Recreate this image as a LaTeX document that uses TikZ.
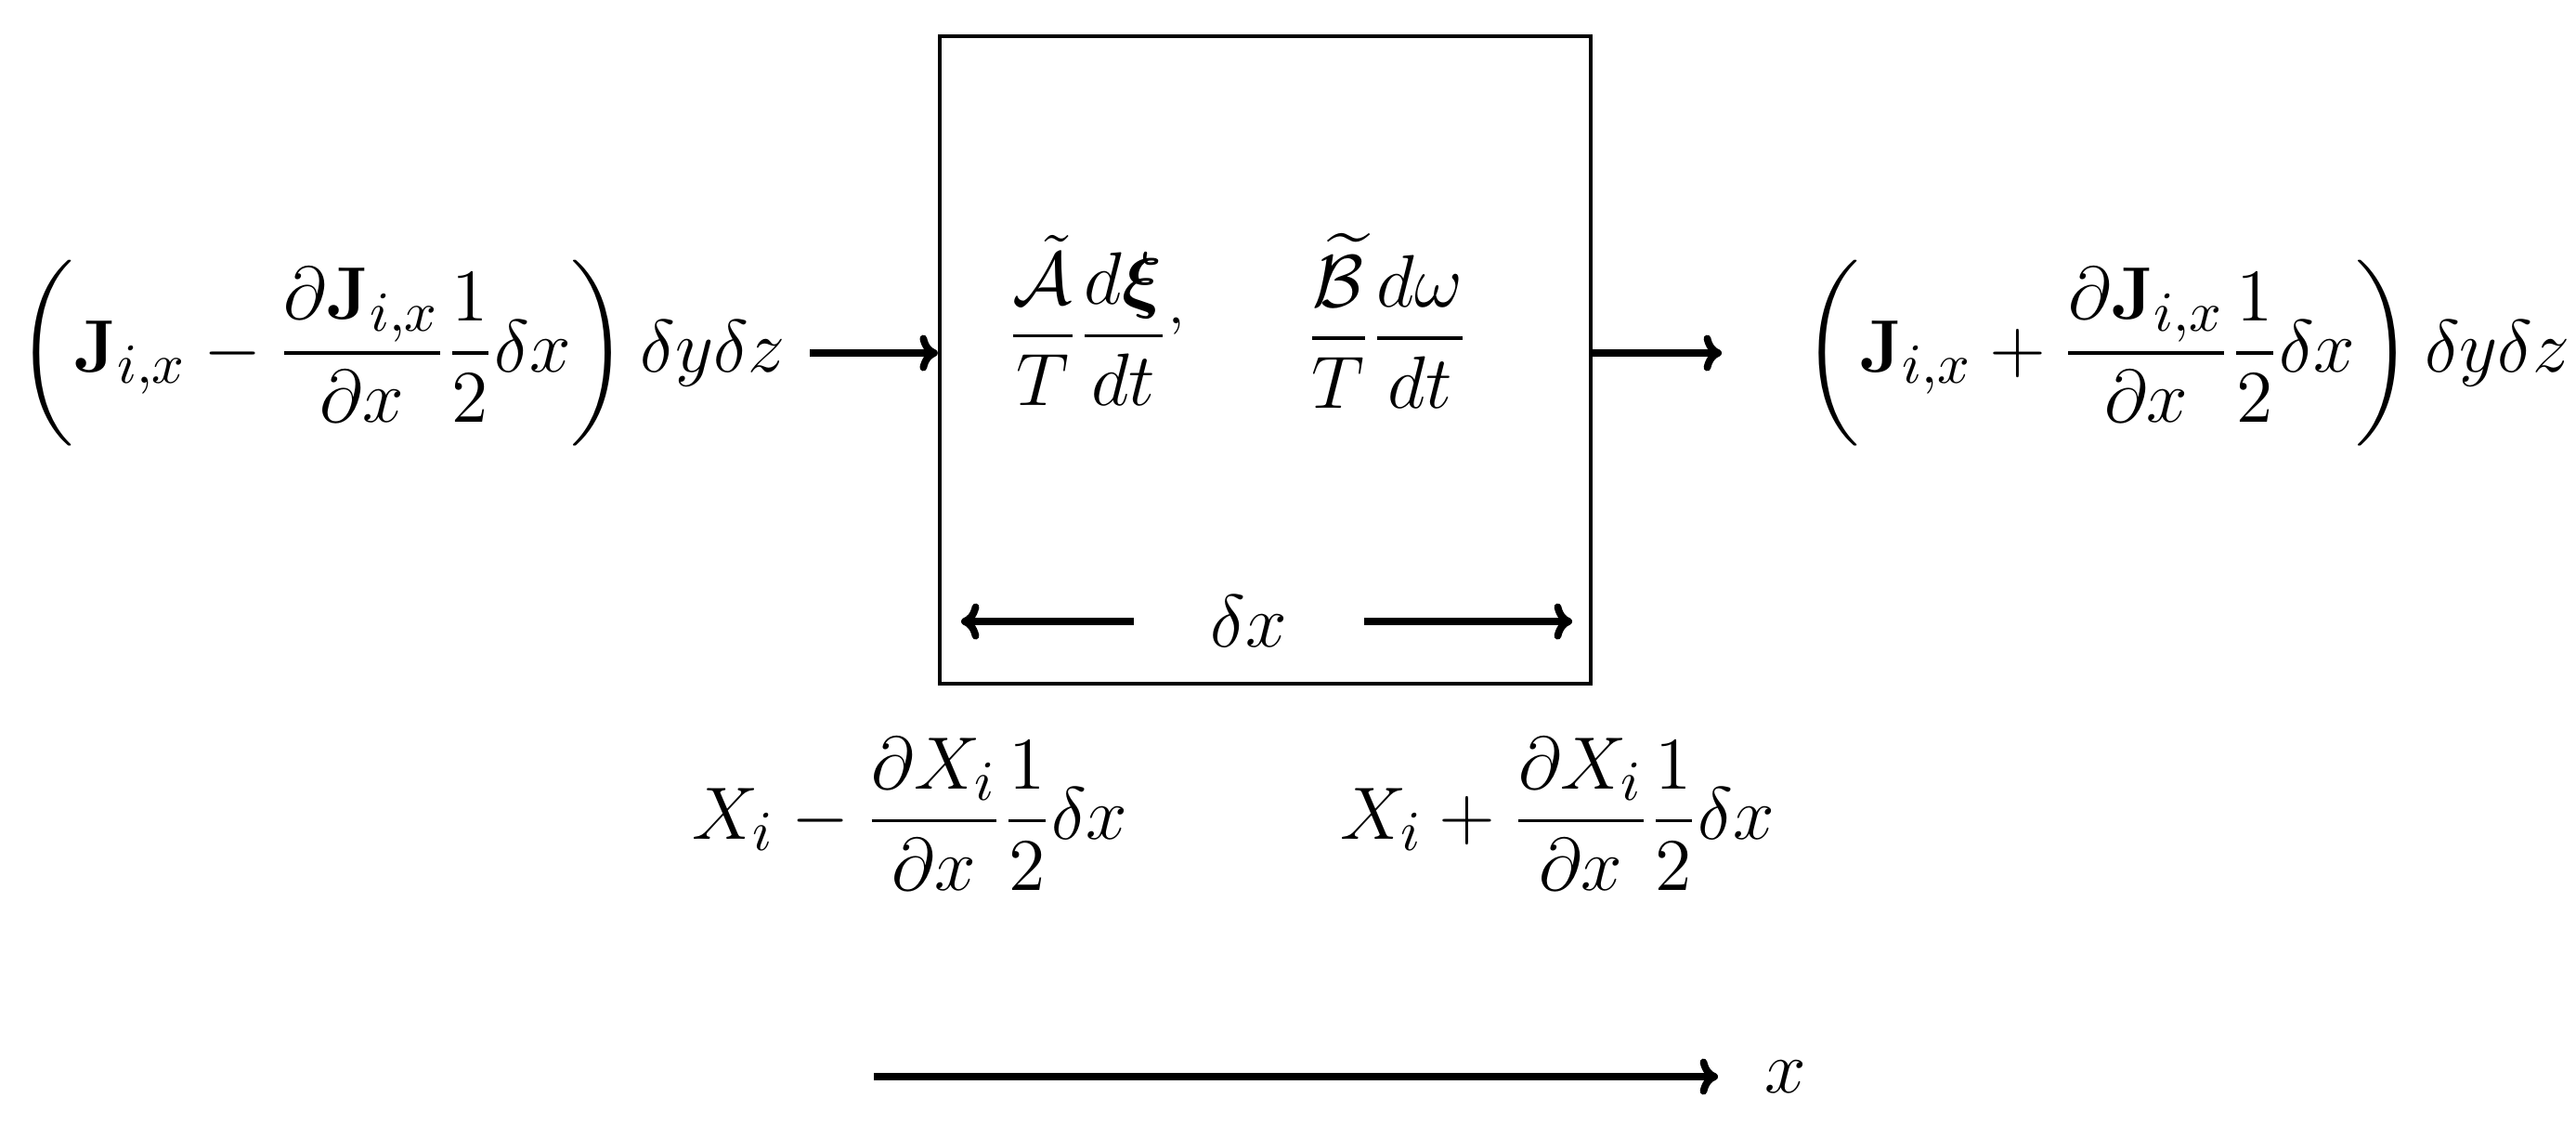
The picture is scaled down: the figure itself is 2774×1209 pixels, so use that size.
\documentclass[tikz,border=0pt]{standalone}
\usepackage{amsmath,amssymb}
\usetikzlibrary{arrows.meta}
\begin{document}
\begin{tikzpicture}[x=0.18pt,y=-0.18pt,
  arr/.style={line width=1.4pt,-{To[length=3.5pt,width=7pt]}},
  lbl/.style={inner sep=0pt,outer sep=0pt,font=\fontsize{15}{18}\selectfont},
  boxst/.style={draw,line width=0.75pt,minimum width=126.2pt,minimum height=125.5pt,inner sep=0pt}]
\useasboundingbox (0,0) rectangle (2774,1209);
\node[boxst] (box) at (1362.5,387.5) {};
\node[lbl,anchor=east] (jin) at (846,380) {$\displaystyle\left(\mathbf{J}_{i,x}-\frac{\partial\mathbf{J}_{i,x}}{\partial x}\frac{1}{2}\delta x\right)\delta y\delta z$};
\node[lbl,anchor=west] (jout) at (1941,380) {$\displaystyle\left(\mathbf{J}_{i,x}+\frac{\partial\mathbf{J}_{i,x}}{\partial x}\frac{1}{2}\delta x\right)\delta y\delta z$};
\draw[arr] ([xshift=26*0.18pt]jin.east) -- (jin.east -| box.west);
\draw[arr] (jin.east -| box.east) -- ([xshift=-87*0.18pt]jout.west);
\node[lbl] (rateA) at (1181,345) {$\displaystyle\frac{\tilde{\mathcal{A}}}{T}\frac{d\boldsymbol{\xi}}{dt}{}^{,}$};
\node[lbl] (rateB) at (1494,345) {$\displaystyle\frac{\widetilde{\mathcal{B}}}{T}\frac{d\omega}{dt}$};
\node[lbl] (dx) at (1345,669) {$\delta x$};
\coordinate (dxl) at (1035,669);
\coordinate (dxr) at (1693,669);
\draw[arr] ([xshift=-22.3pt]dx.center) -- (dxl);
\draw[arr] ([xshift=22.3pt]dx.center) -- (dxr);
\node[lbl] (xm) at (980,876) {$\displaystyle X_i-\frac{\partial X_i}{\partial x}\frac{1}{2}\delta x$};
\node[lbl] (xp) at (1677,876) {$\displaystyle X_i+\frac{\partial X_i}{\partial x}\frac{1}{2}\delta x$};
\coordinate (ax0) at (941,1159);
\node[lbl,anchor=west] (xl) at (1900,1159) {$x$};
\draw[arr] (ax0) -- ([xshift=-9pt]xl.west);
\end{tikzpicture}
\end{document}
